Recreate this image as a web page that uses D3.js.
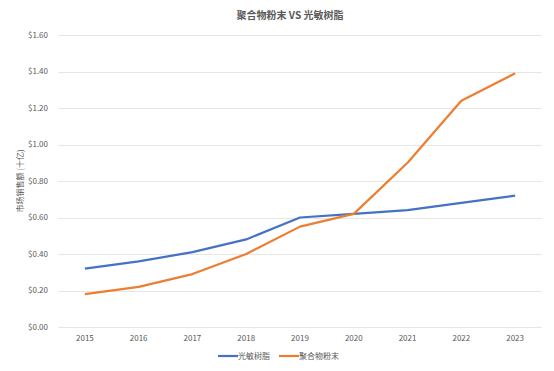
<!DOCTYPE html>
<html>
<head>
<meta charset="utf-8"/>
<script src="https://d3js.org/d3.v7.min.js"></script>
<style>
body { margin: 0; background: #fff; }
text { font-family: "Noto Sans CJK SC", "Noto Sans", sans-serif; fill: #595959; }
.grid line { stroke: #e6e6e6; stroke-width: 1px; }
.series { fill: none; stroke-width: 2.2px; stroke-linejoin: round; }
</style>
</head>
<body>
<script>

var years = ["2015", "2016", "2017", "2018", "2019", "2020", "2021", "2022", "2023"];
var resin = [0.32, 0.36, 0.41, 0.48, 0.60, 0.62, 0.64, 0.68, 0.72];   // 光敏树脂
var powder = [0.18, 0.22, 0.29, 0.40, 0.55, 0.62, 0.90, 1.24, 1.39]; // 聚合物粉末
var yTicks = [0, 0.2, 0.4, 0.6, 0.8, 1.0, 1.2, 1.4, 1.6];

var width = 554, height = 371;
var plotLeft = 58, plotRight = 542, plotTop = 35, plotBottom = 327;

var svg = d3.select("body").append("svg")
    .attr("width", width)
    .attr("height", height);

var x = d3.scaleBand()
    .domain(years)
    .range([plotLeft, plotRight]);

var y = d3.scaleLinear()
    .domain([0, 1.6])
    .range([plotBottom, plotTop]);

// gridlines
svg.append("g").attr("class", "grid")
  .selectAll("line")
  .data(yTicks)
  .enter().append("line")
    .attr("x1", plotLeft)
    .attr("x2", plotRight)
    .attr("y1", function(d) { return Math.round(y(d)) + 0.5; })
    .attr("y2", function(d) { return Math.round(y(d)) + 0.5; });

// y labels
svg.append("g")
  .selectAll("text")
  .data(yTicks)
  .enter().append("text")
    .attr("x", 48)
    .attr("y", function(d) { return y(d); })
    .attr("dy", "0.35em")
    .attr("text-anchor", "end")
    .style("font-size", "8px")
    .text(function(d) { return "$" + d.toFixed(2); });

// x labels
svg.append("g")
  .selectAll("text")
  .data(years)
  .enter().append("text")
    .attr("x", function(d) { return x(d) + x.bandwidth() / 2; })
    .attr("y", 341)
    .attr("text-anchor", "middle")
    .style("font-size", "8px")
    .text(function(d) { return d; });

// title
svg.append("text")
    .attr("x", 290)
    .attr("y", 19)
    .attr("text-anchor", "middle")
    .style("font-size", "10px")
    .style("font-weight", "bold")
    .text("聚合物粉末 VS 光敏树脂");

// y axis title
svg.append("text")
    .attr("transform", "translate(23,181) rotate(-90)")
    .attr("text-anchor", "middle")
    .style("font-size", "8px")
    .text("市场销售额 (十亿)");

var line = d3.line()
    .x(function(d, i) { return x(years[i]) + x.bandwidth() / 2; })
    .y(function(d) { return y(d); });

var series = [
  { name: "光敏树脂", values: resin, color: "#4472c4" },
  { name: "聚合物粉末", values: powder, color: "#ed7d31" }
];

svg.selectAll(".series")
  .data(series)
  .enter().append("path")
    .attr("class", "series")
    .attr("stroke", function(d) { return d.color; })
    .attr("d", function(d) { return line(d.values); });

// legend
var legendX = [218, 279];
var lg = svg.selectAll(".legend")
  .data(series)
  .enter().append("g")
    .attr("class", "legend")
    .attr("transform", function(d, i) { return "translate(" + legendX[i] + ",356)"; });

lg.append("line")
    .attr("x1", 0).attr("x2", 20)
    .attr("y1", 0).attr("y2", 0)
    .attr("stroke", function(d) { return d.color; })
    .attr("stroke-width", 2.2);

lg.append("text")
    .attr("x", 20)
    .attr("dy", "0.35em")
    .style("font-size", "8px")
    .text(function(d) { return d.name; });

</script>
</body>
</html>
